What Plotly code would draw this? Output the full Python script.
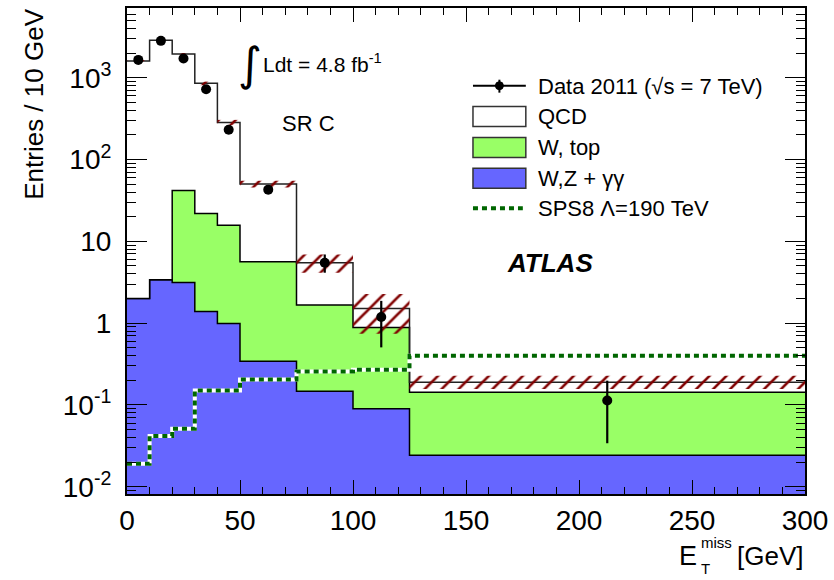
import plotly.graph_objects as go
import numpy as np

# ---------------- data ----------------
bin_edges = [0, 10, 20, 30, 40, 50, 75, 100, 125, 300]
data_vals = [1650, 2820, 1720, 721, 231, 42.8, 5.47, 1.19, 0.113]
data_err_hi = [13, 17, 13, 8.5, 4.8, 4.1, 1.43, 0.68, 0.085]
data_err_lo = [13, 17, 13, 8.5, 4.8, 4.1, 1.34, 0.685, 0.079]
wzgg_vals = [2.0, 3.4, 3.13, 1.39, 0.99, 0.341, 0.147, 0.0895, 0.0242]
wtop_vals = [0.0, 0.0, 38.6, 20.5, 14.7, 5.28, 1.52, 0.795, 0.119]
qcd_vals = [1598, 2874, 1903, 831, 267, 44.5, 3.80, 0.625, 0.046]
unc_lo = [1560, 2810, 1895, 810, 262, 45.5, 4.13, 0.74, 0.157]
unc_hi = [1640, 2945, 1995, 895, 305, 55.0, 6.9, 2.27, 0.228]
sps8_vals = [0.0191, 0.0416, 0.0512, 0.150, 0.150, 0.204, 0.257, 0.27, 0.40]

ytick_vals = [0.01, 0.1, 1, 10, 100, 1000]
ytick_text = ["10<sup>-2</sup>", "10<sup>-1</sup>", "1", "10", "10<sup>2</sup>", "10<sup>3</sup>"]
xtick_vals = [0, 50, 100, 150, 200, 250, 300]

# ---------------- styles ----------------
FONT = "Liberation Sans, Arial, Helvetica, sans-serif"
BLUE = "#6666ff"
GREEN = "#99ff66"
HATCH = "#800000"
SPSG = "#006600"

W, H = 834, 580
ML, MR, MT, MB = 127, 27, 6, 86
PW, PH = W - ML - MR, H - MT - MB

def px(xp):
    return (xp - ML) / PW

def py(yp):
    return (H - MB - yp) / PH

edges = np.array(bin_edges, dtype=float)
centers = 0.5 * (edges[:-1] + edges[1:])

def step(v):
    v = list(v)
    return v + [v[-1]]

blue_top = np.array(wzgg_vals)
green_top = blue_top + np.array(wtop_vals)
total_top = green_top + np.array(qcd_vals)

fig = go.Figure()

# baseline below axis range
fig.add_trace(go.Scatter(x=edges, y=[1e-5] * len(edges), mode="lines",
                         line=dict(width=0, shape="hv"), hoverinfo="skip", showlegend=False))
fig.add_trace(go.Scatter(x=edges, y=step(blue_top), mode="lines", fill="tonexty",
                         fillcolor=BLUE, line=dict(color="black", width=1.5, shape="hv"),
                         name="W,Z + γγ", showlegend=False))
fig.add_trace(go.Scatter(x=edges, y=step(green_top), mode="lines", fill="tonexty",
                         fillcolor=GREEN, line=dict(color="black", width=1.5, shape="hv"),
                         name="W, top", showlegend=False))
fig.add_trace(go.Scatter(x=edges, y=step(total_top), mode="lines", fill="tonexty",
                         fillcolor="white", line=dict(color="#222222", width=1.5, shape="hv"),
                         name="QCD", showlegend=False))

# SPS8 signal
fig.add_trace(go.Scatter(x=edges, y=step(sps8_vals), mode="lines",
                         line=dict(color="white", width=4, shape="hv"),
                         hoverinfo="skip", showlegend=False))
fig.add_trace(go.Scatter(x=edges, y=step(sps8_vals), mode="lines",
                         line=dict(color=SPSG, width=4, shape="hv", dash="5px,4px"),
                         name="SPS8 Λ=190 TeV", showlegend=False))

# uncertainty hatch
for i in range(len(centers)):
    x0, x1 = edges[i], edges[i + 1]
    lo, hi = unc_lo[i], unc_hi[i]
    fig.add_trace(go.Scatter(x=[x0, x1, x1, x0, x0], y=[lo, lo, hi, hi, lo], mode="lines",
                             line=dict(width=0), fill="toself", fillcolor="rgba(0,0,0,0)",
                             fillpattern=dict(shape="/", fgcolor=HATCH, bgcolor="rgba(0,0,0,0)",
                                              size=12, solidity=0.22, fillmode="replace"),
                             hoverinfo="skip", showlegend=False))

# data
fig.add_trace(go.Scatter(x=centers, y=data_vals, mode="markers",
                         marker=dict(color="black", size=10),
                         error_y=dict(type="data", array=data_err_hi, arrayminus=data_err_lo,
                                      color="black", thickness=2.2, width=0),
                         name="Data 2011", showlegend=False))

# minor tick positions on log axis
minor_y = [m * 10.0 ** e for e in range(-3, 4) for m in range(2, 10)]

fig.update_layout(
    width=W, height=H,
    margin=dict(l=ML, r=MR, t=MT, b=MB),
    paper_bgcolor="white", plot_bgcolor="white",
    font=dict(family=FONT, color="black"),
    showlegend=False,
    xaxis=dict(range=[0, 300], tickvals=xtick_vals, ticks="inside", ticklen=14, tickwidth=1.2,
               tickcolor="black", showline=True, linewidth=2, linecolor="black", mirror="ticks",
               showgrid=False, zeroline=False, tickfont=dict(size=28, family=FONT),
               minor=dict(dtick=10, tick0=0, ticks="inside", ticklen=7, tickwidth=1.2,
                          tickcolor="black", showgrid=False)),
    yaxis=dict(type="log", range=[-2.089, 3.852], tickvals=ytick_vals, ticktext=ytick_text,
               ticks="inside", ticklen=20, tickwidth=1.2, tickcolor="black",
               showline=True, linewidth=2, linecolor="black", mirror="ticks",
               showgrid=False, zeroline=False, tickfont=dict(size=28, family=FONT),
               ticklabelstandoff=8,
               minor=dict(tickvals=minor_y, ticks="inside", ticklen=9, tickwidth=1.2,
                          tickcolor="black", showgrid=False)),
)

ann = []
def text(x, y, s, size, xanchor="left", yanchor="middle", **kw):
    ann.append(dict(x=px(x), y=py(y), xref="paper", yref="paper", text=s, showarrow=False,
                    xanchor=xanchor, yanchor=yanchor, borderpad=0,
                    font=dict(size=size, family=kw.pop("family", FONT), color="black"), **kw))

# axis titles
ann.append(dict(x=px(33), y=py(5), xref="paper", yref="paper", text="Entries / 10 GeV",
                showarrow=False, textangle=-90, xanchor="center", yanchor="top",
                font=dict(size=26, family=FONT, color="black")))
text(700, 556, "E", 27, xanchor="right")
text(702, 543, "miss", 15)
text(702, 569, "T", 15)
text(806, 556, "[GeV]", 26, xanchor="right")

# labels in the frame
text(250, 62, "∫", 46, xanchor="center", family="DejaVu Sans")
text(262, 61, "Ldt = 4.8 fb<sup>-1</sup>", 21)
text(281, 122, "SR C", 22)
text(507, 262, "<b><i>ATLAS</i></b>", 26)

# custom legend
shapes = []
LX0, LX1 = 474, 527
shapes.append(dict(type="line", xref="paper", yref="paper", x0=px(LX0), x1=px(LX1),
                   y0=py(84), y1=py(84), line=dict(color="black", width=2)))
shapes.append(dict(type="line", xref="paper", yref="paper", x0=px(500.5), x1=px(500.5),
                   y0=py(78), y1=py(91), line=dict(color="black", width=2)))
shapes.append(dict(type="circle", xref="paper", yref="paper", x0=px(496.5), x1=px(504.5),
                   y0=py(80), y1=py(88), fillcolor="black", line=dict(color="black", width=1)))
for yc, col in [(115, "white"), (146, GREEN), (177, BLUE)]:
    shapes.append(dict(type="rect", xref="paper", yref="paper", x0=px(LX0), x1=px(LX1),
                       y0=py(yc - 10), y1=py(yc + 10), fillcolor=col,
                       line=dict(color="#333333", width=1.5)))
shapes.append(dict(type="line", xref="paper", yref="paper", x0=px(LX0), x1=px(524),
                   y0=py(207), y1=py(207), line=dict(color=SPSG, width=4, dash="5px,4px")))

text(538, 85, "Data 2011 (√s = 7 TeV)", 22)
text(538, 115, "QCD", 22)
text(538, 146, "W, top", 22)
text(538, 177, "W,Z + γγ", 22)
text(538, 207, "SPS8 Λ=190 TeV", 22)

fig.update_layout(annotations=ann, shapes=shapes)
fig.write_html("out.html")
